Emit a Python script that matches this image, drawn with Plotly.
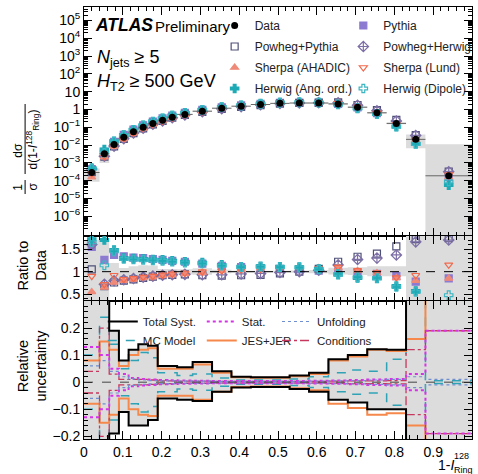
import plotly.graph_objects as go

# ---------------- data ----------------
edges = [0, 0.04, 0.065, 0.09, 0.115, 0.14, 0.165, 0.19, 0.215, 0.24, 0.28, 0.33,
         0.38, 0.43, 0.48, 0.53, 0.58, 0.63, 0.68, 0.73, 0.78, 0.83, 0.88, 1.0]

data = [2.9e-4, 3.3e-3, 0.011, 0.028, 0.056, 0.10, 0.165, 0.25, 0.37, 0.53,
        0.80, 1.18, 1.53, 1.9, 2.2, 2.3, 2.3, 2.05, 1.34, 0.65, 0.165, 0.021, 1.9e-4]

# total systematic uncertainty (relative), up and down
tot_up = [0.70, 0.70, 0.19, 0.08, 0.12, 0.14, 0.135, 0.06, 0.06, 0.055, 0.075, 0.04,
          0.02, 0.018, 0.018, 0.025, 0.035, 0.085, 0.10, 0.122, 0.12, 0.90, 57.0]
tot_dn = [0.70, 0.70, 0.19, 0.11, 0.16, 0.16, 0.14, 0.06, 0.06, 0.065, 0.07, 0.035,
          0.02, 0.018, 0.018, 0.025, 0.035, 0.065, 0.075, 0.10, 0.10, 0.68, 57.0]

# individual components (relative, symmetric)
mc_model = [0.10, 0.24, 0.14, 0.05, 0.08, 0.11, 0.09, 0.035, 0.035, 0.025, 0.03, 0.015,
            0.008, 0.008, 0.008, 0.012, 0.02, 0.035, 0.045, 0.04, 0.085, 0.9, 0.005]
stat = [0.13, 0.10, 0.05, 0.03, 0.015, 0.012, 0.01, 0.008, 0.007, 0.006, 0.005, 0.004,
        0.004, 0.004, 0.004, 0.004, 0.005, 0.006, 0.008, 0.01, 0.012, 0.03, 0.19]
unfolding = [0.06, 0.08, 0.04, 0.02, 0.012, 0.008, 0.006, 0.005, 0.005, 0.004, 0.004, 0.003,
             0.003, 0.003, 0.003, 0.003, 0.004, 0.005, 0.006, 0.008, 0.01, 0.02, 0.01]
jes_jer = [0.08, 0.15, 0.12, 0.06, 0.10, 0.12, 0.125, 0.05, 0.05, 0.05, 0.065, 0.035,
           0.018, 0.016, 0.016, 0.022, 0.03, 0.08, 0.095, 0.12, 0.115, 0.16, 0.8]
conditions = [0.04, 0.20, 0.03, 0.01, 0.01, 0.01, 0.008, 0.005, 0.005, 0.004, 0.004, 0.003,
              0.003, 0.003, 0.003, 0.003, 0.003, 0.004, 0.005, 0.005, 0.006, 0.12, 0.19]

# MC / Data ratios
ratio_pythia = [1.55, 1.26, 1.37, 1.34, 1.31, 1.30, 1.28, 1.26, 1.24, 1.22, 1.18, 1.13,
                1.10, 1.08, 1.06, 1.05, 1.02, 1.00, 0.97, 0.95, 0.90, 0.78, 0.85]
ratio_powheg_pythia = [1.05, 0.68, 0.76, 0.80, 0.83, 0.86, 0.89, 0.92, 0.93, 0.94, 0.92, 0.91,
                       0.92, 0.93, 0.96, 1.00, 1.06, 1.22, 1.33, 1.40, 1.56, 1.72, 1.74]
ratio_powheg_herwig = [1.60, 0.72, 0.80, 0.82, 0.85, 0.88, 0.90, 0.92, 0.93, 0.94, 0.93, 0.93,
                       0.95, 0.96, 0.98, 1.00, 1.03, 1.15, 1.27, 1.30, 1.37, 1.66, 1.70]
ratio_sherpa_ahadic = [0.55, 0.65, 0.76, 0.80, 0.83, 0.86, 0.88, 0.91, 0.93, 0.95, 0.98, 1.02,
                       1.05, 1.08, 1.10, 1.10, 1.08, 1.08, 1.02, 0.97, 0.86, 0.80, 0.85]
ratio_sherpa_lund = [0.90, 0.72, 0.92, 0.83, 0.85, 0.88, 0.90, 0.93, 0.95, 0.97, 1.00, 1.02,
                     1.04, 1.06, 1.08, 1.08, 1.07, 1.10, 1.03, 0.98, 0.87, 0.92, 1.15]
ratio_herwig_ang = [1.72, 1.70, 1.48, 1.30, 1.29, 1.28, 1.27, 1.26, 1.24, 1.22, 1.20, 1.15,
                    1.11, 1.12, 1.11, 1.10, 1.06, 0.93, 0.86, 0.85, 0.68, 0.57, 0.30]
ratio_herwig_dipole = [1.65, 1.14, 1.45, 1.28, 1.27, 1.26, 1.25, 1.24, 1.22, 1.20, 1.18, 1.13,
                       1.10, 1.11, 1.10, 1.09, 1.05, 0.95, 0.88, 0.86, 0.66, 0.55, 0.48]

x_tick_vals = [0, 0.1, 0.2, 0.3, 0.4, 0.5, 0.6, 0.7, 0.8, 0.9]
ratio_tick_vals = [0.5, 1, 1.5]
unc_tick_vals = [-0.2, -0.1, 0, 0.1, 0.2]
log_exps = [-6, -5, -4, -3, -2, -1, 0, 1, 2, 3, 4, 5]

# ---------------- helpers ----------------
FONT = "Liberation Sans, Arial, Helvetica, sans-serif"
W, H = 478, 474
ML, MR, MT, MB = 84, 2, 7, 35
PW, PH = W - ML - MR, H - MT - MB


def px(xp):
    return (xp - ML) / PW


def py(yp):
    return (H - MB - yp) / PH


centers = [(a + b) / 2 for a, b in zip(edges[:-1], edges[1:])]
halfw = [(b - a) / 2 for a, b in zip(edges[:-1], edges[1:])]


def stepy(vals):
    return list(vals) + [vals[-1]]


fig = go.Figure()

BAND = "#dcdcdc"

# ---- top panel band ----
top_lo = [max(d * (1 - u), 1e-12) for d, u in zip(data, tot_dn)]
top_hi = [d * (1 + u) for d, u in zip(data, tot_up)]
fig.add_trace(go.Scatter(x=edges, y=stepy(top_lo), mode="lines", line=dict(width=0, shape="hv"),
                         showlegend=False, hoverinfo="skip", xaxis="x", yaxis="y"))
fig.add_trace(go.Scatter(x=edges, y=stepy(top_hi), mode="lines", line=dict(width=0, shape="hv"),
                         fill="tonexty", fillcolor=BAND, showlegend=False, hoverinfo="skip",
                         xaxis="x", yaxis="y"))

# ---- ratio panel band ----
fig.add_trace(go.Scatter(x=edges, y=stepy([1 - u for u in tot_dn]), mode="lines",
                         line=dict(width=0, shape="hv"), showlegend=False, hoverinfo="skip",
                         xaxis="x2", yaxis="y2"))
fig.add_trace(go.Scatter(x=edges, y=stepy([1 + u for u in tot_up]), mode="lines",
                         line=dict(width=0, shape="hv"), fill="tonexty", fillcolor=BAND,
                         showlegend=False, hoverinfo="skip", xaxis="x2", yaxis="y2"))

# ---- bottom panel band ----
fig.add_trace(go.Scatter(x=edges, y=stepy([-u for u in tot_dn]), mode="lines",
                         line=dict(width=0, shape="hv"), showlegend=False, hoverinfo="skip",
                         xaxis="x3", yaxis="y3"))
fig.add_trace(go.Scatter(x=edges, y=stepy(tot_up), mode="lines",
                         line=dict(width=0, shape="hv"), fill="tonexty", fillcolor=BAND,
                         showlegend=False, hoverinfo="skip", xaxis="x3", yaxis="y3"))

# ---- MC predictions ----
mc_series = [
    ("Pythia", ratio_pythia, "square", "#8c7bd1", 7, "legend2", 1),
    ("Powheg+Pythia", ratio_powheg_pythia, "square-open", "#4f5078", 7, "legend", 2),
    ("Powheg+Herwig", ratio_powheg_herwig, "diamond-cross-open", "#7d6fa6", 8, "legend2", 2),
    ("Sherpa (AHADIC)", ratio_sherpa_ahadic, "triangle-up", "#f08a78", 7, "legend", 3),
    ("Sherpa (Lund)", ratio_sherpa_lund, "triangle-down-open", "#f2694c", 7, "legend2", 3),
    ("Herwig (Ang. ord.)", ratio_herwig_ang, "cross", "#1eaab5", 7, "legend", 4),
    ("Herwig (Dipole)", ratio_herwig_dipole, "cross-open", "#3bb6c2", 7, "legend2", 4),
]
for name, ratio, sym, col, size, leg, rank in mc_series:
    mc = [d * r for d, r in zip(data, ratio)]
    mk = dict(symbol=sym, color=col, size=size, line=dict(color=col, width=1.2))
    fig.add_trace(go.Scatter(x=centers, y=mc, mode="markers", marker=mk, name=name,
                             legend=leg, legendrank=rank, legendgroup=name,
                             xaxis="x", yaxis="y"))
    fig.add_trace(go.Scatter(x=centers, y=ratio, mode="markers", marker=mk, name=name,
                             showlegend=False, legendgroup=name, xaxis="x2", yaxis="y2"))

# ---- Data ----
fig.add_trace(go.Scatter(x=centers, y=data, mode="markers", name="Data",
                         marker=dict(symbol="circle", color="black", size=7),
                         error_x=dict(type="data", array=halfw, color="#666666", thickness=1, width=0),
                         legend="legend", legendrank=1, legendgroup="Data",
                         xaxis="x", yaxis="y"))

# ---- uncertainty components ----
def sym_line(vals):
    return (list(edges) + [None] + list(edges),
            stepy(vals) + [None] + stepy([-v for v in vals]))


comp = [
    ("MC Model", mc_model, dict(color="#2fa3b5", width=1.5, dash="dash"), "legend3", 2),
    ("JES+JER", jes_jer, dict(color="#f5884a", width=2, dash="solid"), "legend4", 2),
    ("Conditions", conditions, dict(color="#c8385e", width=1.3, dash="dashdot"), "legend5", 2),
    ("Stat.", stat, dict(color="#d633e6", width=2, dash="dot"), "legend4", 1),
    ("Unfolding", unfolding, dict(color="#6f8fd0", width=1.2, dash="dot"), "legend5", 1),
]
for name, vals, ln, leg, rank in comp:
    xs, ys = sym_line(vals)
    ln = dict(ln, shape="hv")
    fig.add_trace(go.Scatter(x=xs, y=ys, mode="lines", line=ln, name=name, legend=leg,
                             legendrank=rank, connectgaps=False, xaxis="x3", yaxis="y3"))

fig.add_trace(go.Scatter(x=list(edges) + [None] + list(edges),
                         y=stepy(tot_up) + [None] + stepy([-v for v in tot_dn]),
                         mode="lines", line=dict(color="black", width=2, shape="hv"),
                         name="Total Syst.", legend="legend3", legendrank=1,
                         connectgaps=False, xaxis="x3", yaxis="y3"))

# ---------------- axes ----------------
tickfont = dict(family=FONT, size=14, color="black")
common_x = dict(range=[0, 1], showline=True, linecolor="black", linewidth=1, mirror="allticks",
                ticks="inside", ticklen=8, tickcolor="black", tickvals=x_tick_vals,
                minor=dict(ticks="inside", ticklen=4, dtick=0.02, tick0=0, tickcolor="black"),
                showgrid=False, zeroline=False, tickfont=tickfont)
common_y = dict(showline=True, linecolor="black", linewidth=1, mirror="allticks",
                ticks="inside", ticklen=8, tickcolor="black", showgrid=False, zeroline=False,
                tickfont=tickfont)

log_minor = [k * 10.0 ** e for e in range(-8, 6) for k in range(2, 10)]
log_text = []
for e in log_exps:
    if e == 0:
        log_text.append("1")
    elif e == 1:
        log_text.append("10")
    else:
        log_text.append("10<sup>%s</sup>" % (str(e).replace("-", "−")))

y1_dom = [py(236), 1.0]
y2_dom = [py(301), py(236)]
y3_dom = [0.0, py(301)]

fig.update_layout(
    width=W, height=H, margin=dict(l=ML, r=MR, t=MT, b=MB),
    paper_bgcolor="white", plot_bgcolor="white",
    font=dict(family=FONT, color="black"),
    xaxis=dict(common_x, anchor="y", domain=[0, 1], showticklabels=False),
    xaxis2=dict(common_x, anchor="y2", domain=[0, 1], matches="x", showticklabels=False),
    xaxis3=dict(common_x, anchor="y3", domain=[0, 1], matches="x", showticklabels=True),
    yaxis=dict(common_y, domain=y1_dom, type="log", range=[-7.1, 5.75],
               tickvals=[10.0 ** e for e in log_exps], ticktext=log_text,
               minor=dict(ticks="inside", ticklen=4, tickvals=log_minor, tickcolor="black")),
    yaxis2=dict(common_y, domain=y2_dom, range=[0.35, 1.79], tickvals=ratio_tick_vals,
                minor=dict(ticks="inside", ticklen=4, dtick=0.1, tick0=0, tickcolor="black")),
    yaxis3=dict(common_y, domain=y3_dom, range=[-0.21, 0.3], tickvals=unc_tick_vals,
                minor=dict(ticks="inside", ticklen=4, dtick=0.02, tick0=0, tickcolor="black")),
    showlegend=True,
)

# ---------------- legends (one per column) ----------------
top_font = dict(family=FONT, size=12, color="#222222")
for key, xl in [("legend", 216), ("legend2", 346)]:
    fig.update_layout({key: dict(orientation="v", x=px(xl), xanchor="left", y=py(11),
                                 yanchor="top", font=top_font, bgcolor="rgba(0,0,0,0)",
                                 borderwidth=0, itemwidth=30, traceorder="grouped",
                                 tracegroupgap=2)})
bot_font = dict(family=FONT, size=11.5, color="#222222")
for key, xl in [("legend3", 103), ("legend4", 203), ("legend5", 279)]:
    fig.update_layout({key: dict(orientation="v", x=px(xl), xanchor="left", y=py(307),
                                 yanchor="top", font=bot_font, bgcolor="rgba(0,0,0,0)",
                                 borderwidth=0, itemwidth=30, traceorder="normal")})

# ---------------- reference lines ----------------
fig.add_shape(type="line", xref="x2 domain", yref="y2", x0=0, x1=1, y0=1, y1=1,
              line=dict(color="black", width=1, dash="dash"))
fig.add_shape(type="line", xref="x3 domain", yref="y3", x0=0, x1=1, y0=0, y1=0,
              line=dict(color="#444444", width=1, dash="dash"))

# ---------------- texts ----------------
def ann(text, xp, yp, size, xanchor="left", yanchor="middle", angle=0):
    fig.add_annotation(text=text, x=px(xp), y=py(yp), xref="paper", yref="paper",
                       xanchor=xanchor, yanchor=yanchor, showarrow=False, textangle=angle,
                       font=dict(family=FONT, size=size, color="black"))


ann("<b><i>ATLAS</i></b>", 93, 25, 17.5)
ann("Preliminary", 154, 26, 15)
ann("<i>N</i><sub>jets</sub> ≥ 5", 95, 58, 18)
ann("<i>H</i><sub>T2</sub> ≥ 500 GeV", 95, 82, 18)

# y title of the top panel (fraction layout)
ann("1", 17, 187, 12, xanchor="center", angle=-90)
ann("σ", 32, 187, 12, xanchor="center", angle=-90)
ann("dσ", 17, 150, 12, xanchor="center", angle=-90)
ann("d(1-<i>I</i><sup>128</sup><sub>Ring</sub>)", 32, 140, 12, xanchor="center", angle=-90)
for y0, y1 in [(180, 194), (104, 174)]:
    fig.add_shape(type="line", xref="paper", yref="paper", x0=px(24.5), x1=px(24.5),
                  y0=py(y0), y1=py(y1), line=dict(color="black", width=1))

ann("Ratio to<br>Data", 31, 266, 14.5, xanchor="center", angle=-90)
ann("Relative<br>uncertainty", 31, 366, 14.5, xanchor="center", angle=-90)

ann("1-<i>I</i>", 440, 465, 14)
ann("128", 456, 456, 9)
ann("Ring", 456, 470, 9)

fig.write_html("out.html", config={"displayModeBar": False},
               post_script="document.body.style.margin='0';")
